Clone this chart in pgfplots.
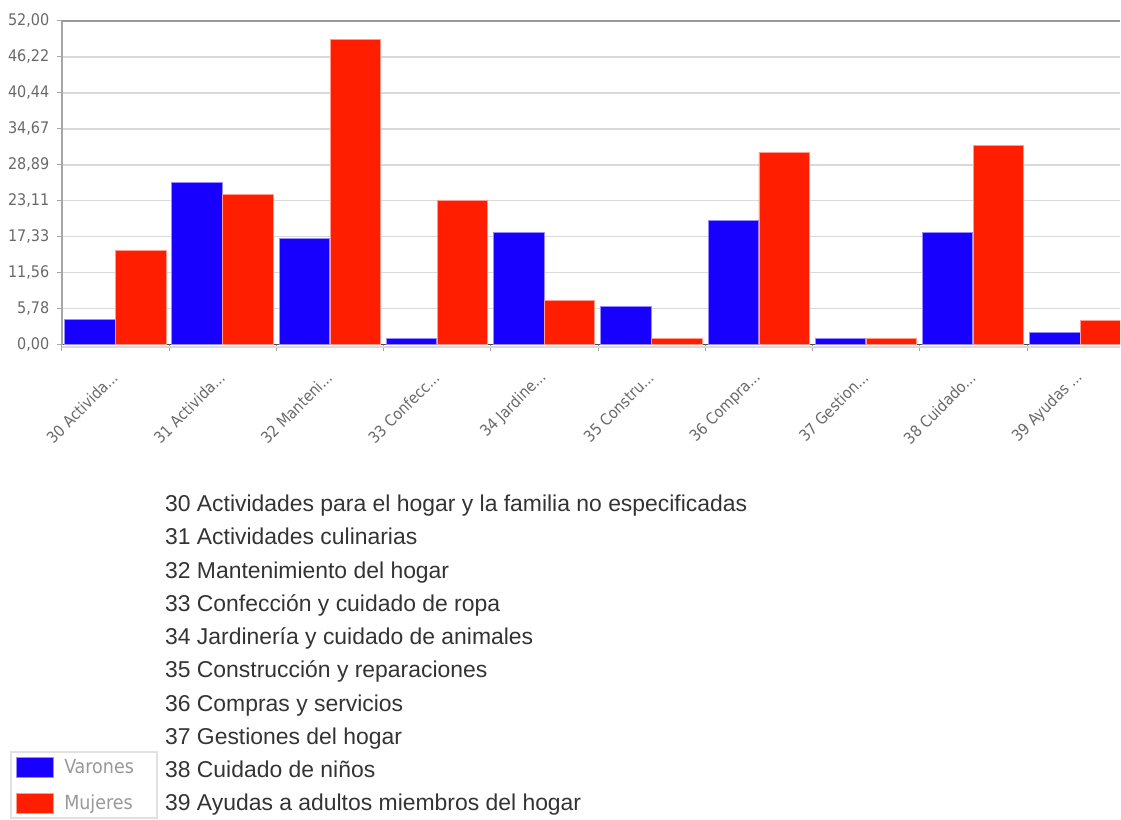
\documentclass[border=0pt]{standalone}
\usepackage{fontspec}
\setmainfont{Liberation Sans}
\newfontfamily\tickfont{DejaVu Sans Condensed}
\usepackage{pgfplots}
\pgfplotsset{compat=1.18}
\definecolor{cblue}{RGB}{24,0,255}
\definecolor{cred}{RGB}{255,30,0}
\definecolor{tickgray}{RGB}{105,105,105}
\definecolor{gridgray}{RGB}{218,218,218}
\newcommand{\dd}{.{}.{}.}
\begin{document}
\begin{tikzpicture}
\begin{scope}[x=0.75pt,y=0.75pt]
\useasboundingbox (0,0) rectangle (1121,816);
\end{scope}
\begin{axis}[
  at={(46.5pt,353.25pt)}, anchor=south west,
  scale only axis, width=794.25pt, height=243pt,
  xmin=-0.5, xmax=9.367, ymin=0, ymax=52,
  ybar, bar width=0.47,
  xtick=data,
  xticklabels={{30 Activida\dd},{31 Activida\dd},{32 Manteni\dd},{33 Confecc\dd},{34 Jardine\dd},{35 Constru\dd},{36 Compra\dd},{37 Gestion\dd},{38 Cuidado\dd},{39 Ayudas \dd}},
  minor xtick={-0.5,0.5,1.5,2.5,3.5,4.5,5.5,6.5,7.5,8.5},
  major x tick style={draw=none},
  minor x tick style={draw=black!35, line width=0.75pt},
  minor tick length=4.5pt,
  major tick length=3.5pt,
  tick align=outside,
  ytick={0,5.7778,11.5556,17.3333,23.1111,28.8889,34.6667,40.4444,46.2222,52},
  yticklabels={{0,00},{5,78},{11,56},{17,33},{23,11},{28,89},{34,67},{40,44},{46,22},{52,00}},
  y tick style={draw=black!35, line width=0.75pt},
  ymajorgrids, grid style={draw=gridgray, line width=1pt},
  axis x line*=bottom, axis y line*=left,
  x axis line style={draw=black!70, line width=1.2pt, -},
  y axis line style={draw=black!35, line width=1.8pt, -},
  yticklabel style={font=\tickfont\fontsize{12pt}{13pt}\selectfont, text=tickgray, xshift=-2.5pt},
  xticklabel style={font=\tickfont\fontsize{11.8pt}{13pt}\selectfont, text=tickgray, inner sep=0pt, anchor=east, xshift=-0.5pt, yshift=-19pt, rotate=45},
  legend style={at={(-0.0491,-1.2562)}, anchor=north west, draw=black!12, line width=1.5pt, fill=white,
    font=\tickfont\fontsize{14.6pt}{16pt}\selectfont, text=black!40, inner xsep=4pt, inner ysep=3pt, row sep=10.75pt, cells={anchor=west}},
  legend image code/.code={\draw[#1,/tikz/.cd,line width=0.5pt] (0pt,-7.5pt) rectangle (27.75pt,7.5pt);
    \path[draw=none,fill=none] (0pt,0pt) -- (33.75pt,0pt);},
  after end axis/.code={
    \draw[black!40, line width=1.5pt] (rel axis cs:0,1) -- (rel axis cs:1,1);
    \draw[black!15, line width=1.5pt] ([yshift=-1.8pt]rel axis cs:0,0) -- ([yshift=-1.8pt]rel axis cs:1,0);
  },
]
\addplot[fill=cblue, draw=cblue!45!white, line width=0.6pt, bar shift=-0.24] coordinates {
  (0,4.1) (1,26.05) (2,17.1) (3,1.05) (4,18.1) (5,6.15) (6,19.98) (7,1.0) (8,18.0) (9,1.96)};
\addplot[fill=cred, draw=cred!45!white, line width=0.6pt, bar shift=0.235] coordinates {
  (0,15.1) (1,24.07) (2,49.1) (3,23.1) (4,7.06) (5,0.95) (6,30.95) (7,1.0) (8,31.97) (9,3.93)};
\legend{Varones\hspace*{11pt},Mujeres\hspace*{11pt}}
\end{axis}
\begin{scope}[x=0.75pt,y=0.75pt]
\foreach \t [count=\i from 0] in {30 Actividades para el hogar y la familia no especificadas,
  31 Actividades culinarias, 32 Mantenimiento del hogar, 33 Confección y cuidado de ropa,
  34 Jardinería y cuidado de animales, 35 Construcción y reparaciones, 36 Compras y servicios,
  37 Gestiones del hogar, 38 Cuidado de niños, 39 Ayudas a adultos miembros del hogar}
  \node[anchor=base west, inner sep=0pt, font=\fontsize{17.2pt}{20pt}\selectfont, text=black!80] at (165,{304-33.3*\i}) {\t};
\end{scope}
\end{tikzpicture}
\end{document}
